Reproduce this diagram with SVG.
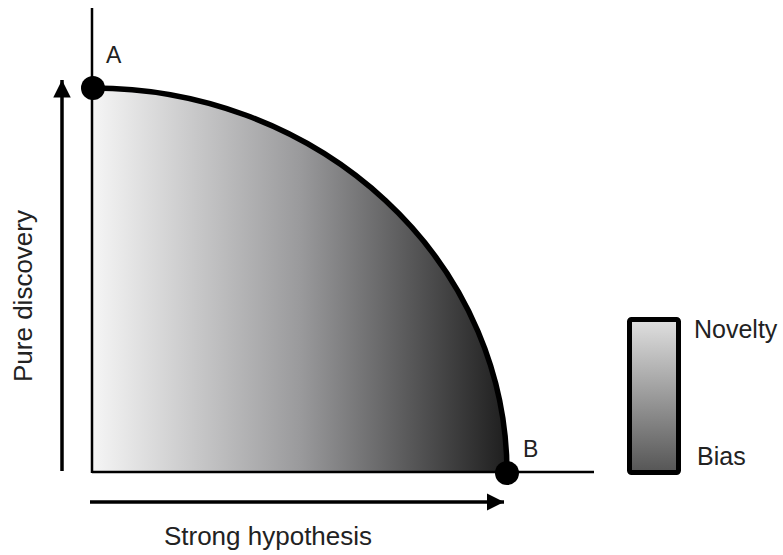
<svg xmlns="http://www.w3.org/2000/svg" width="783" height="555" viewBox="0 0 783 555">
<defs>
<linearGradient id="gh" x1="93" y1="0" x2="507" y2="0" gradientUnits="userSpaceOnUse">
<stop offset="0" stop-color="#f5f5f5"/>
<stop offset="0.5" stop-color="#9a9a9c"/>
<stop offset="1" stop-color="#1e1e1e"/>
</linearGradient>
<linearGradient id="gv" x1="0" y1="0" x2="0" y2="1">
<stop offset="0" stop-color="#e0e0e0"/>
<stop offset="1" stop-color="#555"/>
</linearGradient>
<marker id="ah" viewBox="0 0 10 10" refX="10" refY="5" markerWidth="5" markerHeight="5" orient="auto" markerUnits="strokeWidth">
<path d="M0,0 L10,5 L0,10 z" fill="#000"/>
</marker>
<style>
text{font-family:"Liberation Sans",Arial,sans-serif;font-size:23px;fill:#222}
.lg{font-size:25px}
.axl{font-size:26px}
.ax{stroke:#000;stroke-width:2.5;fill:none}
.ar{stroke:#000;stroke-width:3.5;fill:none;marker-end:url(#ah)}
</style>
</defs>
<g id="region">
<path d="M93,473 L93,88 A414,385 0 0 1 507,473 Z" fill="url(#gh)"/>
</g>
<g id="connectors">
<line class="ax" x1="92" y1="8" x2="92" y2="473"/>
<line class="ax" x1="92" y1="472" x2="594" y2="472"/>
<path d="M93,88 A414,385 0 0 1 507,473" stroke="#000" stroke-width="5.5" fill="none"/>
<line class="ar" x1="62" y1="471" x2="62" y2="80"/>
<line class="ar" x1="90" y1="502" x2="504" y2="502"/>
</g>
<g id="A"><circle cx="93" cy="88" r="12" fill="#000"/><text x="106" y="63">A</text></g>
<g id="B"><circle cx="507" cy="473" r="12" fill="#000"/><text x="523" y="457">B</text></g>
<g id="legend">
<rect x="629.5" y="319.5" width="49" height="153" fill="url(#gv)" stroke="#000" stroke-width="5" rx="2"/>
<text class="lg" x="694" y="338">Novelty</text>
<text class="lg" x="697" y="465">Bias</text>
</g>
<text class="axl" x="268" y="545" text-anchor="middle">Strong hypothesis</text>
<text class="axl" transform="translate(32,296) rotate(-90)" text-anchor="middle">Pure discovery</text>
</svg>
